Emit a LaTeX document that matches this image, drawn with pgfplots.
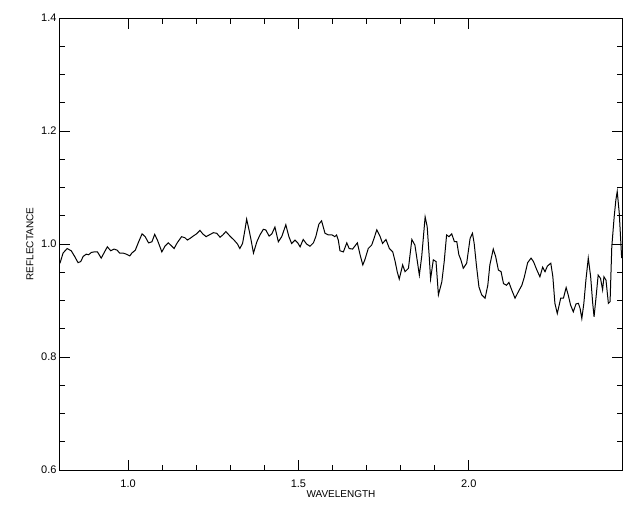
\documentclass[border=0pt]{standalone}
\usepackage{fontspec}
\setmainfont{Liberation Sans}
\usepackage{pgfplots}
\pgfplotsset{compat=1.18}

\pgfplotstableread{
x y
0.800 0.966
0.809 0.984
0.821 0.992
0.833 0.988
0.843 0.978
0.853 0.967
0.861 0.969
0.868 0.978
0.877 0.982
0.884 0.981
0.892 0.985
0.900 0.986
0.910 0.986
0.921 0.975
0.929 0.984
0.939 0.995
0.949 0.988
0.959 0.991
0.968 0.989
0.975 0.984
0.985 0.984
0.995 0.982
1.005 0.979
1.011 0.984
1.021 0.989
1.031 1.004
1.041 1.018
1.050 1.013
1.060 1.002
1.070 1.004
1.078 1.017
1.086 1.007
1.099 0.986
1.108 0.996
1.118 1.002
1.125 0.998
1.135 0.992
1.144 1.002
1.157 1.013
1.167 1.011
1.174 1.007
1.182 1.010
1.191 1.014
1.201 1.018
1.211 1.024
1.219 1.018
1.229 1.013
1.238 1.016
1.250 1.020
1.260 1.019
1.270 1.012
1.278 1.016
1.287 1.022
1.299 1.014
1.311 1.007
1.321 1.000
1.328 0.992
1.336 1.001
1.343 1.025
1.348 1.044
1.355 1.025
1.361 1.007
1.368 0.984
1.378 1.004
1.387 1.016
1.397 1.026
1.404 1.025
1.414 1.014
1.422 1.018
1.431 1.030
1.441 1.004
1.451 1.013
1.463 1.034
1.472 1.013
1.480 1.001
1.490 1.007
1.498 1.002
1.505 0.995
1.514 1.008
1.524 1.000
1.534 0.996
1.544 1.002
1.551 1.013
1.560 1.035
1.568 1.041
1.578 1.019
1.588 1.016
1.599 1.016
1.607 1.013
1.612 1.016
1.617 1.007
1.622 0.988
1.632 0.986
1.642 1.002
1.649 0.992
1.659 0.991
1.673 1.002
1.681 0.981
1.689 0.963
1.695 0.972
1.705 0.992
1.715 0.998
1.722 1.010
1.730 1.025
1.740 1.013
1.747 1.001
1.757 1.008
1.767 0.992
1.777 0.986
1.784 0.969
1.790 0.951
1.796 0.938
1.806 0.963
1.813 0.951
1.823 0.957
1.833 1.008
1.842 0.998
1.847 0.978
1.855 0.945
1.862 0.978
1.872 1.048
1.878 1.031
1.884 0.978
1.888 0.938
1.896 0.972
1.904 0.969
1.911 0.910
1.921 0.933
1.928 0.969
1.935 1.016
1.942 1.013
1.950 1.018
1.958 1.004
1.965 1.004
1.971 0.981
1.977 0.972
1.984 0.957
1.994 0.966
2.004 1.010
2.011 1.019
2.016 1.001
2.023 0.960
2.030 0.924
2.038 0.910
2.048 0.904
2.056 0.927
2.062 0.963
2.072 0.991
2.079 0.978
2.087 0.954
2.095 0.951
2.102 0.930
2.111 0.927
2.118 0.932
2.126 0.919
2.136 0.904
2.146 0.916
2.156 0.927
2.163 0.941
2.173 0.967
2.183 0.975
2.190 0.969
2.200 0.954
2.209 0.942
2.217 0.959
2.224 0.951
2.231 0.961
2.241 0.966
2.247 0.942
2.253 0.895
2.260 0.877
2.270 0.904
2.278 0.904
2.286 0.923
2.292 0.910
2.299 0.892
2.307 0.880
2.315 0.894
2.322 0.895
2.327 0.886
2.332 0.868
2.338 0.895
2.344 0.936
2.351 0.975
2.358 0.942
2.364 0.895
2.368 0.871
2.374 0.907
2.380 0.945
2.387 0.939
2.393 0.919
2.397 0.942
2.403 0.936
2.410 0.895
2.415 0.898
2.420 0.995
2.427 1.048
2.432 1.078
2.436 1.093
2.442 1.054
2.449 0.975
}\spectrum

\begin{document}
\begin{tikzpicture}
\useasboundingbox (-60pt,-42pt) rectangle (580pt,470pt);
\begin{axis}[
    at={(0,0)}, anchor=south west,
    width=562pt, height=452pt,
    scale only axis,
    xmin=0.8, xmax=2.45,
    ymin=0.6, ymax=1.4,
    xtick={1.0,1.5,2.0},
    ytick={0.6,0.8,1.0,1.2,1.4},
    minor x tick num=4,
    minor y tick num=3,
    major tick length=10.5pt,
    minor tick length=5.5pt,
    tick align=inside,
    tick pos=both,
    axis line style={line width=1pt},
    every tick/.style={black, line width=1pt},
    xticklabel style={/pgf/number format/fixed, /pgf/number format/fixed zerofill, /pgf/number format/precision=1, yshift=-6pt},
    yticklabel style={/pgf/number format/fixed, /pgf/number format/fixed zerofill, /pgf/number format/precision=1},
    /pgf/number format/assume math mode=true,
    tick label style={font=\fontsize{11}{13}\selectfont},
    label style={font=\fontsize{9.5}{11}\selectfont},
    xlabel={WAVELENGTH},
    ylabel={REFLECTANCE},
    every axis x label/.style={at={(axis description cs:0.5,0)}, yshift=-24pt, anchor=center},
    every axis y label/.style={at={(axis description cs:0,0.5)}, xshift=-30pt, rotate=90, anchor=center},
]
\addplot[black, line width=1pt] table[x=x, y=y] {\spectrum};
\end{axis}
\end{tikzpicture}
\end{document}
